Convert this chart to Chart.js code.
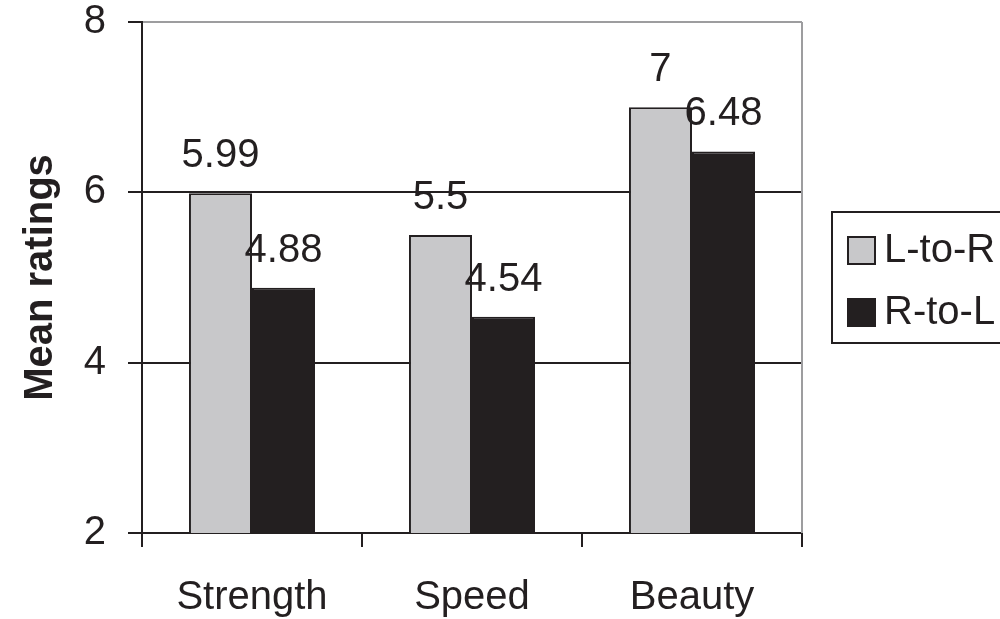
<!DOCTYPE html>
<html>
<head>
<meta charset="utf-8">
<script src="https://cdn.jsdelivr.net/npm/chart.js@4/dist/chart.umd.min.js"></script>
<style>
    html, body { margin: 0; padding: 0; background: #fff; overflow: hidden; }
    #wrap { width: 1000px; height: 619px; }
</style>
</head>
<body>
<div id="wrap"><canvas id="ratingsChart" width="1000" height="619"></canvas></div>
<script>
// Chart data
const categories = ['Strength', 'Speed', 'Beauty'];
const seriesNames = ['L-to-R', 'R-to-L'];
const leftToRight = [5.99, 5.5, 7];
const rightToLeft = [4.88, 4.54, 6.48];
const yTicks = [2, 4, 6, 8];

const INK = '#231f20';
const LIGHT = '#c8c8ca';
const FRAME = '#9d9d9f';
const FONT = '"Liberation Sans", Arial, Helvetica, sans-serif';

// Value labels above each bar
const barLabels = {
    id: 'barLabels',
    afterDatasetsDraw(chart) {
        const ctx = chart.ctx;
        ctx.save();
        ctx.font = '40px ' + FONT;
        ctx.fillStyle = INK;
        ctx.textAlign = 'center';
        ctx.textBaseline = 'middle';
        chart.data.datasets.forEach((ds, i) => {
            chart.getDatasetMeta(i).data.forEach((bar, j) => {
                ctx.fillText(String(ds.data[j]), bar.x, bar.y - 37);
            });
        });
        ctx.restore();
    }
};

// Grey right-hand frame line and the boxed legend
const frameAndLegend = {
    id: 'frameAndLegend',
    afterDraw(chart) {
        const ctx = chart.ctx;
        const area = chart.chartArea;
        ctx.save();
        ctx.strokeStyle = FRAME;
        ctx.lineWidth = 2;
        ctx.beginPath();
        ctx.moveTo(area.right, area.top);
        ctx.lineTo(area.right, area.bottom);
        ctx.stroke();

        // legend box
        const lx = 832, ly = 212, lw = 220, lh = 131;
        ctx.strokeStyle = INK;
        ctx.strokeRect(lx, ly, lw, lh);
        ctx.font = '40px ' + FONT;
        ctx.textAlign = 'left';
        ctx.textBaseline = 'middle';
        chart.data.datasets.forEach((ds, i) => {
            const cy = 250 + i * 62;
            ctx.fillStyle = ds.backgroundColor;
            ctx.fillRect(848, cy - 13, 27, 27);
            ctx.strokeStyle = INK;
            ctx.lineWidth = 2;
            ctx.strokeRect(848, cy - 13, 27, 27);
            ctx.fillStyle = INK;
            ctx.fillText(ds.label, 884, cy + 1);
        });
        ctx.restore();
    }
};

new Chart(document.getElementById('ratingsChart'), {
    type: 'bar',
    data: {
        labels: categories,
        datasets: [
            {
                label: seriesNames[0],
                data: leftToRight,
                backgroundColor: LIGHT,
                borderColor: INK,
                borderWidth: 2
            },
            {
                label: seriesNames[1],
                data: rightToLeft,
                backgroundColor: INK,
                borderColor: INK,
                borderWidth: 2
            }
        ]
    },
    options: {
        responsive: false,
        animation: false,
        datasets: {
            bar: { categoryPercentage: 0.573, barPercentage: 1.0 }
        },
        layout: { padding: { left: 0, right: 198, top: 0, bottom: 0 } },
        plugins: {
            legend: { display: false },
            tooltip: { enabled: false }
        },
        scales: {
            x: {
                grid: {
                    offset: true,
                    drawOnChartArea: false,
                    color: INK,
                    lineWidth: 2,
                    tickLength: 14
                },
                border: { color: INK, width: 2 },
                ticks: {
                    color: INK,
                    padding: 27,
                    font: { family: FONT, size: 40 }
                },
                afterFit(scale) { scale.height = 86; }
            },
            y: {
                min: 2,
                max: 8,
                afterBuildTicks(scale) {
                    scale.ticks = yTicks.map(v => ({ value: v }));
                },
                grid: {
                    color: ctx => (ctx.tick && ctx.tick.value === 8 ? FRAME : INK),
                    tickColor: INK,
                    lineWidth: 2,
                    tickLength: 14
                },
                border: { color: INK, width: 2 },
                ticks: {
                    color: INK,
                    padding: 22,
                    font: { family: FONT, size: 40 }
                },
                title: {
                    display: true,
                    text: 'Mean ratings',
                    color: INK,
                    padding: { top: 17, bottom: 0 },
                    font: { family: FONT, size: 40, weight: 'bold' }
                },
                afterFit(scale) {
                    scale.width = 142;
                    scale.paddingTop = 22;
                }
            }
        }
    },
    plugins: [barLabels, frameAndLegend]
});
</script>
</body>
</html>
